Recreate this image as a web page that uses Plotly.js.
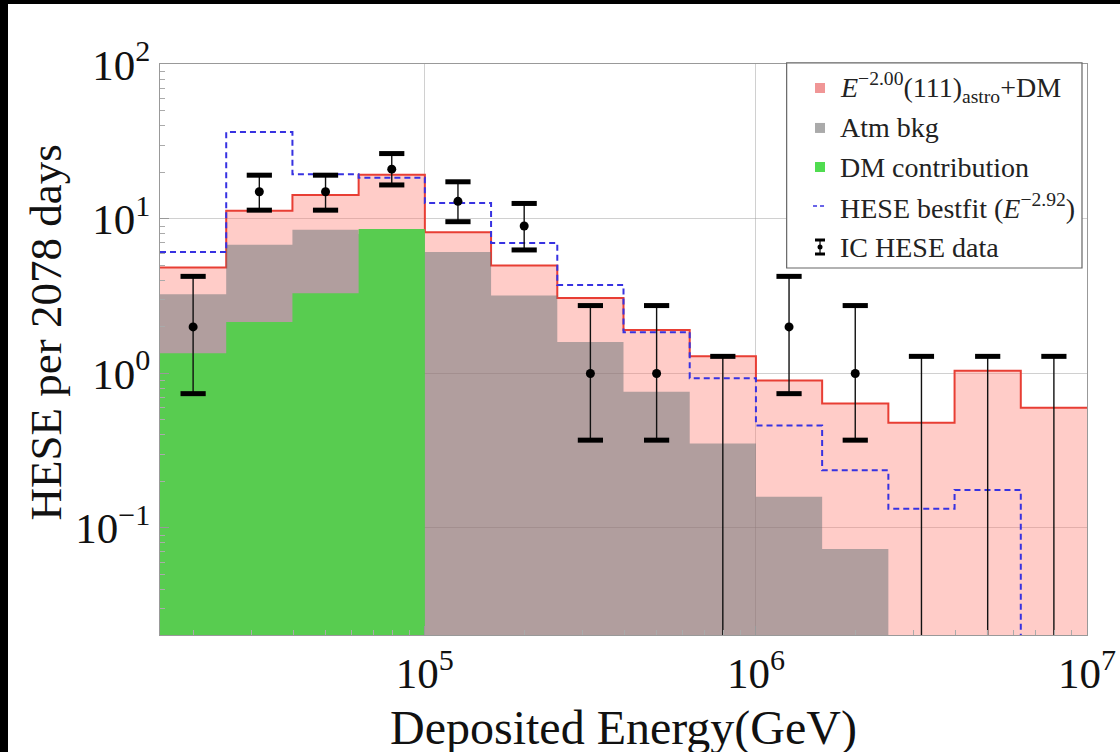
<!DOCTYPE html>
<html>
<head>
<meta charset="utf-8">
<script src="https://cdn.plot.ly/plotly-3.0.1.min.js"></script>
<style>
  html, body { margin: 0; padding: 0; background: #000; }
  #chart { position: absolute; left: 8px; top: 4px; width: 1112px; height: 748px; }
</style>
</head>
<body>
<div id="chart"></div>
<script>
// Deposited-energy bins: log10(E/GeV) edges
const binEdgesLog = [4.2, 4.4, 4.6, 4.8, 5.0, 5.2, 5.4, 5.6, 5.8, 6.0, 6.2, 6.4, 6.6, 6.8, 7.0];

// Expected events per bin (2078 days)
const totalAstroDM = [4.85, 11.3, 14.3, 19.3, 8.2, 5.0, 3.08, 1.91, 1.29, 0.90, 0.64, 0.48, 1.04, 0.60];
const atmBkg       = [3.25, 6.8, 8.5, 8.0, 6.1, 3.2, 1.6, 0.76, 0.352, 0.159, 0.073, 0, 0, 0];
const dmContrib    = [1.35, 2.15, 3.3, 8.6, 0, 0, 0, 0, 0, 0, 0, 0, 0, 0];
const heseBestfit  = [6.1, 36.5, 19.5, 18.5, 12.7, 7.0, 3.74, 1.85, 0.93, 0.46, 0.236, 0.133, 0.176, 0];

// IceCube HESE observed counts with 68% intervals
const dataCounts = [2, 15, 15, 21, 13, 9, 1, 1, 0, 2, 1, 0, 0, 0];
const dataLow    = [0.74, 11.4, 11.4, 16.6, 9.6, 6.3, 0.37, 0.37, 0, 0.74, 0.37, 0, 0, 0];
const dataHigh   = [4.25, 19.2, 19.2, 26.5, 17.4, 12.6, 2.75, 2.75, 1.29, 4.25, 2.75, 1.29, 1.29, 1.29];

const legendLabels = [
  "<i>E</i><sup>−2.00</sup>(111)<sub>astro</sub>+DM",
  "Atm bkg",
  "DM contribution",
  "HESE bestfit (<i>E</i><sup>−2.92</sup>)",
  "IC HESE data"
];

const xTitle = 'Deposited Energy(GeV)';
const yTitle = 'HESE per 2078 days';

// value used in place of zero so step lines drop below the visible log range
const FLOOR = 1e-3;

const edges = binEdgesLog.map(l => Math.pow(10, l));
const centers = binEdgesLog.slice(0, -1).map((l, i) => Math.pow(10, (l + binEdgesLog[i + 1]) / 2));

// step outline ending after the last non-zero bin
function stepTrace(vals, dropToFloor) {
  let last = vals.length - 1;
  while (last >= 0 && vals[last] <= 0) last--;
  const xs = [], ys = [];
  for (let i = 0; i <= last; i++) { xs.push(edges[i]); ys.push(vals[i]); }
  xs.push(edges[last + 1]);
  ys.push(dropToFloor ? FLOOR : vals[last]);
  return { x: xs, y: ys };
}

const pinkStep = stepTrace(totalAstroDM, false);
const grayStep = stepTrace(atmBkg, false);
const greenStep = stepTrace(dmContrib, false);
const blueStep = stepTrace(heseBestfit, true);

// error-bar segments
const errX = [], errY = [];
centers.forEach((c, i) => {
  errX.push(c, c, null);
  errY.push(dataLow[i] > 0 ? dataLow[i] : FLOOR, dataHigh[i], null);
});
const capX = [], capY = [];
centers.forEach((c, i) => {
  capX.push(c); capY.push(dataHigh[i]);
  if (dataLow[i] > 0) { capX.push(c); capY.push(dataLow[i]); }
});
const ptX = [], ptY = [];
centers.forEach((c, i) => { if (dataCounts[i] > 0) { ptX.push(c); ptY.push(dataCounts[i]); } });

const traces = [
  { x: pinkStep.x, y: pinkStep.y, type: 'scatter', mode: 'lines', line: { shape: 'hv', color: 'rgb(232,62,52)', width: 2 },
    fill: 'tozeroy', fillcolor: 'rgba(255,120,110,0.38)', name: legendLabels[0], showlegend: false, hoverinfo: 'skip' },
  { x: grayStep.x, y: grayStep.y, type: 'scatter', mode: 'lines', line: { shape: 'hv', width: 0, color: 'rgba(0,0,0,0)' },
    fill: 'tozeroy', fillcolor: 'rgba(100,112,116,0.5)', name: legendLabels[1], showlegend: false, hoverinfo: 'skip' },
  { x: greenStep.x, y: greenStep.y, type: 'scatter', mode: 'lines', line: { shape: 'hv', width: 0, color: 'rgba(0,0,0,0)' },
    fill: 'tozeroy', fillcolor: 'rgb(88,204,80)', name: legendLabels[2], showlegend: false, hoverinfo: 'skip' },
  { x: blueStep.x, y: blueStep.y, type: 'scatter', mode: 'lines', line: { shape: 'hv', color: 'rgb(55,50,225)', width: 2, dash: '6px,4px' },
    name: legendLabels[3], showlegend: false, hoverinfo: 'skip' },
  { x: errX, y: errY, type: 'scatter', mode: 'lines', line: { color: '#111', width: 1.4 }, showlegend: false, hoverinfo: 'skip' },
  { x: capX, y: capY, type: 'scatter', mode: 'markers', marker: { symbol: 'line-ew', size: 18, line: { color: '#000', width: 5 } },
    showlegend: false, hoverinfo: 'skip' },
  { x: ptX, y: ptY, type: 'scatter', mode: 'markers', marker: { symbol: 'circle', size: 9, color: '#000' },
    name: legendLabels[4], showlegend: false }
];

// minor tick positions (2..9 x decade)
function minorTicks(lo, hi) {
  const out = [];
  for (let d = lo; d <= hi; d++) for (let m = 2; m <= 9; m++) out.push(m * Math.pow(10, d));
  return out;
}

const serif = 'Liberation Serif, Times New Roman, serif';

// legend drawn in paper coordinates of the plot area
const lg = { x0: 0.676, x1: 0.9946, y0: 0.6427, y1: 1.0018, iconX: 0.712, textX: 0.7314,
             rows: [0.958, 0.888, 0.8196, 0.7513, 0.6795] };
const legendColors = ['rgb(240,150,150)', 'rgb(170,170,170)', 'rgb(80,220,80)'];

const shapes = [
  { type: 'rect', xref: 'paper', yref: 'paper', x0: lg.x0, x1: lg.x1, y0: lg.y0, y1: lg.y1,
    fillcolor: 'white', line: { color: '#666', width: 1.2 }, layer: 'above' }
];
legendColors.forEach((col, i) => {
  shapes.push({ type: 'rect', xref: 'paper', yref: 'paper', xsizemode: 'pixel', ysizemode: 'pixel',
    xanchor: lg.iconX, yanchor: lg.rows[i], x0: -5, x1: 5, y0: -5, y1: 5,
    fillcolor: col, line: { width: 0 }, layer: 'above' });
});
// dashed line icon
shapes.push({ type: 'line', xref: 'paper', yref: 'paper', xsizemode: 'pixel', ysizemode: 'pixel',
  xanchor: lg.iconX, yanchor: lg.rows[3], x0: -7, x1: 7, y0: 0, y1: 0,
  line: { color: 'rgb(55,50,225)', width: 1.5, dash: '4px,3px' }, layer: 'above' });
// error-bar icon
shapes.push({ type: 'line', xref: 'paper', yref: 'paper', xsizemode: 'pixel', ysizemode: 'pixel',
  xanchor: lg.iconX, yanchor: lg.rows[4], x0: 0, x1: 0, y0: -7, y1: 7, line: { color: '#000', width: 1.2 }, layer: 'above' });
[-7, 7].forEach(dy => shapes.push({ type: 'line', xref: 'paper', yref: 'paper', xsizemode: 'pixel', ysizemode: 'pixel',
  xanchor: lg.iconX, yanchor: lg.rows[4], x0: -5, x1: 5, y0: dy, y1: dy, line: { color: '#000', width: 3 }, layer: 'above' }));
shapes.push({ type: 'circle', xref: 'paper', yref: 'paper', xsizemode: 'pixel', ysizemode: 'pixel',
  xanchor: lg.iconX, yanchor: lg.rows[4], x0: -2.5, x1: 2.5, y0: -2.5, y1: 2.5, fillcolor: '#000', line: { width: 0 }, layer: 'above' });

const annotations = legendLabels.map((t, i) => ({
  xref: 'paper', yref: 'paper', x: lg.textX, y: lg.rows[i], xanchor: 'left', yanchor: 'middle',
  text: t, showarrow: false, font: { family: serif, size: 28, color: '#222' }
}));

// axis labels
annotations.push({
  xref: 'paper', yref: 'paper', x: -0.1235, y: 0.529, xanchor: 'center', yanchor: 'middle',
  text: yTitle, textangle: -90, showarrow: false, font: { family: serif, size: 45, color: '#111' }
});
annotations.push({
  xref: 'paper', yref: 'paper', x: 0.5, y: -0.1625, xanchor: 'center', yanchor: 'middle',
  text: xTitle, showarrow: false, font: { family: serif, size: 48, color: '#111' }
});

const layout = {
  width: 1112, height: 748,
  margin: { l: 152, r: 33, t: 60, b: 117 },
  paper_bgcolor: 'white', plot_bgcolor: 'white',
  showlegend: false,
  xaxis: {
    type: 'log', range: [4.2, 7.0], autorange: false,
    tickmode: 'array', tickvals: [1e5, 1e6, 1e7], ticktext: ['10<sup>5</sup>', '10<sup>6</sup>', '10<sup>7</sup>'],
    ticks: 'inside', ticklen: 9, tickcolor: '#999', tickwidth: 1,
    minor: { tickmode: 'array', tickvals: minorTicks(4, 6), ticks: 'inside', ticklen: 5, tickcolor: '#aaa', showgrid: false },
    showgrid: true, gridcolor: 'rgba(150,150,150,0.45)', gridwidth: 1,
    showline: true, mirror: true, linecolor: '#999', linewidth: 1, zeroline: false,
    tickfont: { family: serif, size: 43, color: '#111' }
  },
  yaxis: {
    type: 'log', range: [-1.693, 2.003], autorange: false,
    tickmode: 'array', tickvals: [0.1, 1, 10, 100], ticktext: ['10<sup>−1</sup>', '10<sup>0</sup>', '10<sup>1</sup>', '10<sup>2</sup>'],
    ticks: 'inside', ticklen: 9, tickcolor: '#999', tickwidth: 1,
    minor: { tickmode: 'array', tickvals: minorTicks(-2, 1), ticks: 'inside', ticklen: 5, tickcolor: '#aaa', showgrid: false },
    showgrid: true, gridcolor: 'rgba(150,150,150,0.45)', gridwidth: 1,
    showline: true, mirror: true, linecolor: '#999', linewidth: 1, zeroline: false,
    tickfont: { family: serif, size: 43, color: '#111' }
  },
  shapes: shapes,
  annotations: annotations
};

Plotly.newPlot('chart', traces, layout, { displayModeBar: false, staticPlot: true });
</script>
</body>
</html>
